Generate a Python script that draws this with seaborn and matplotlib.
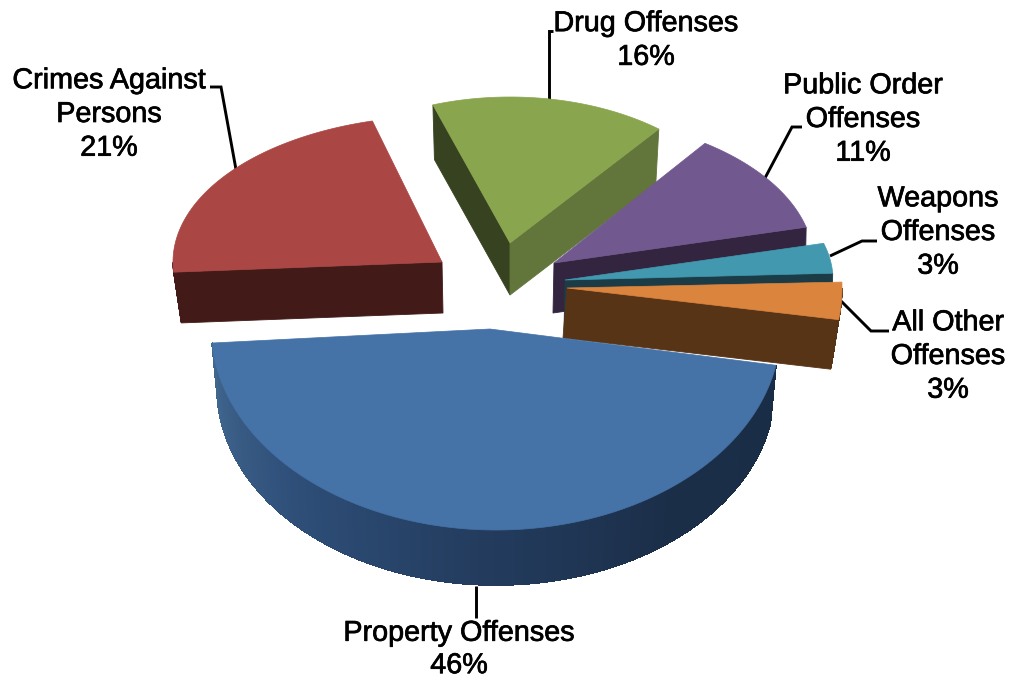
import numpy as np
import matplotlib
matplotlib.use("Agg")
import matplotlib.pyplot as plt
import matplotlib.patheffects as pe
import seaborn as sns

# Offense categories and their share of the total, in percent
categories = ["Property Offenses", "Crimes Against\nPersons", "Drug Offenses",
              "Public Order\nOffenses", "Weapons\nOffenses", "All Other\nOffenses"]
shares = [46, 21, 16, 11, 3, 3]

top_colors = ["#4572A7", "#AA4643", "#89A54E", "#71588F", "#4198AF", "#DB843D"]
# Wall shades: (first radial face, rim, last radial face)
wall_colors = [("#1B2E48", None, "#1B2E48"), ("#421B19", "#421B19", "#421B19"),
               ("#374220", "#374220", "#62753A"), ("#33243F", "#33243F", "#33243F"),
               ("#1B3C47", "#1B3C47", "#1B3C47"), ("#583417", "#583417", "#583417")]

# Exploded slice layout: apex x/y, rim centre offset, radii, angle nudge and
# stretch from the perspective view, wall depth, wall shift, wall scale
layout = [
    (490, 329, 6, 284.6, 201, 0.0, 1.00, 59, 0, 0.98),
    (442, 262, 0, 269, 146, 0.0, 1.045, 51, 1, 0.975),
    (510, 243, 0, 238, 146, 0.5, 1.00, 52, 0, 0.98),
    (554, 263, 0, 260, 147, 3.7, 1.02, 50, -1, 1.00),
    (565, 280, 0, 268, 140, 4.0, 1.15, 50, -1, 1.00),
    (567, 288, 0, 275, 200, 1.3, 1.00, 50, -4, 0.985),
]
start_angle = -10.4

# Callout leader paths, drawn beneath the labels
leaders = [
    [(476, 586), (476, 618)],
    [(210, 87), (221, 87), (237, 175)],
    [(553, 31), (549, 31), (549, 100)],
    [(802, 127), (792, 127), (765, 178)],
    [(830, 256), (862, 241), (877, 241)],
    [(840, 300), (871, 331), (889, 331)],
]
label_centers = [(459, 649), (109, 114), (646, 40), (863, 119), (938, 232), (948, 356)]
label_spacing = [1.2, 1.26, 1.26, 1.26, 1.26, 1.26]

sns.set_theme(style="white")
plt.rcParams["font.family"] = ["Liberation Sans", "DejaVu Sans"]

fig = plt.figure(figsize=(10.11, 6.81), dpi=100)
ax = fig.add_axes([0, 0, 1, 1])
ax.set_xlim(0, 1011)
ax.set_ylim(681, 0)
ax.axis("off")

# Clockwise extents of every slice in the pie's own plane
spans = 360.0 * np.asarray(shares, dtype=float) / np.sum(shares)
starts = start_angle - np.concatenate(([0.0], np.cumsum(spans)[:-1]))

rim_ramp = sns.blend_palette(["#41678F", "#2E4E78", "#233C5E", "#1B2E48", "#1A2D47"], 400)

# Painter's order: rear slices first, the large front slice last
paint_order = [1, 2, 3, 4, 5, 0]


def draw_slice(i, z):
    cx, cy, ox, a, b, nudge, stretch, depth, shift, scale = layout[i]
    t0 = starts[i] + nudge
    t = np.radians(np.linspace(t0, t0 - spans[i] * stretch, 400))
    rx, ry = a * np.cos(t), b * np.sin(t)
    top = np.column_stack((cx + ox + rx, cy - ry))
    bot = np.column_stack((cx + ox + shift + scale * rx, cy + depth - scale * ry))
    apex_top = np.array([cx, cy], dtype=float)
    apex_bot = np.array([cx + shift, cy + depth], dtype=float)
    first, rim, last = wall_colors[i]

    def quad(p, q, r, s, color, smooth=True):
        pts = np.array([p, q, r, s])
        ax.fill(pts[:, 0], pts[:, 1], facecolor=color, edgecolor=color, lw=0.6,
                antialiased=smooth, zorder=z)

    # Only faces turned towards the viewer are drawn (travel is clockwise)
    if top[0, 0] < apex_top[0]:
        quad(apex_top, top[0], bot[0], apex_bot, first)
    for k in range(len(t) - 1):
        if top[k + 1, 0] < top[k, 0]:
            if rim:
                quad(top[k], top[k + 1], bot[k + 1], bot[k], rim)
            else:
                quad(top[k], top[k + 1], bot[k + 1], bot[k], rim_ramp[len(t) - 2 - k], smooth=False)
    if apex_top[0] < top[-1, 0]:
        quad(top[-1], apex_top, apex_bot, bot[-1], last)

    outline = np.vstack((apex_top, top))
    ax.fill(outline[:, 0], outline[:, 1], facecolor=top_colors[i], edgecolor=top_colors[i],
            lw=0.5, zorder=z + 0.5)


for z, i in enumerate(paint_order, start=2):
    draw_slice(i, z)

for path in leaders:
    xs, ys = zip(*path)
    ax.plot(xs, ys, color="black", lw=2.1, zorder=1, solid_capstyle="butt", solid_joinstyle="miter")

for name, share, (x, y), spacing in zip(categories, shares, label_centers, label_spacing):
    label = ax.text(x, y, f"{name}\n{share}%", ha="center", va="center", fontsize=20.7,
                    color="black", linespacing=spacing, zorder=10)
    label.set_path_effects([pe.withStroke(linewidth=0.5, foreground="black")])

fig.savefig("out.png", dpi=100, facecolor="white")
